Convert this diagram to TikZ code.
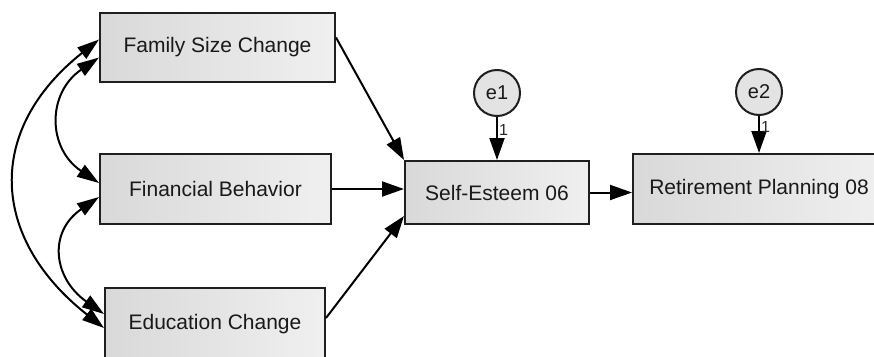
\documentclass[tikz,border=0pt]{standalone}
\usepackage{fontspec}
\setmainfont{Liberation Sans}
\usetikzlibrary{arrows.meta}

\begin{document}
\begin{tikzpicture}[
    var/.style={draw=black!88, line width=2pt, left color=gray!30, right color=gray!12,
        text=black!90, font=\fontsize{21}{24}\selectfont, inner sep=0pt},
    err/.style={circle, draw=black!88, line width=2pt, fill=gray!22, minimum size=46pt,
        text=black!90, font=\fontsize{20}{24}\selectfont, inner sep=0pt},
    path/.style={line width=2pt, -{Triangle[length=22pt, width=15pt]}},
    cov/.style={line width=2pt, {Triangle[length=22pt, width=14pt]}-{Triangle[length=22pt, width=14pt]}},
    lab/.style={text=black!85, font=\fontsize{16}{18}\selectfont, inner sep=1pt}
]
    \clip (0pt, 0pt) rectangle (874pt, -356pt);

    % Nodes
    \node[var, minimum width=235pt, minimum height=69pt] (fam) at (217.5pt, -47.5pt) {Family Size Change};
    \node[var, minimum width=231pt, minimum height=70pt] (fin) at (215.5pt, -189pt) {Financial Behavior};
    \node[var, minimum width=220pt, minimum height=72pt] (edu) at (215pt, -324pt) {Education Change};

    \node[var, minimum width=184pt, minimum height=63pt] (se) at (497pt, -192.5pt) {Self-Esteem 06};
    \node[var, minimum width=252pt, minimum height=70pt] (ret) at (759pt, -189pt) {Retirement Planning 08};

    \node[err] (e1) at (497pt, -93pt) {e1};
    \node[err] (e2) at (759pt, -92pt) {e2};

    % Lines
    \draw[path] ([yshift=10pt]fam.east) -- (se.north west);
    \draw[path] (fin.east) -- (fin.east -| se.west);
    \draw[path] ([yshift=6pt]edu.east) -- ([yshift=9pt]se.south west);
    \draw[path] (se.east) -- (se.east -| ret.west);

    \draw[path] (e1) -- node[lab, right, pos=0.3] {1} (se);
    \draw[path] (e2) -- node[lab, right, pos=0.3] {1} (ret);

    % Covariances
    \draw[cov] ([yshift=8pt]fam.west) .. controls (-15pt, -130pt) and (-10pt, -238pt) .. ([yshift=-4pt]edu.west);
    \draw[cov] ([yshift=-10pt]fam.west) .. controls (47pt, -93pt) and (47pt, -148pt) .. ([yshift=6pt]fin.west);
    \draw[cov] ([yshift=-8pt]fin.west) .. controls (48pt, -232pt) and (53pt, -278pt) .. ([yshift=10pt]edu.west);

\end{tikzpicture}
\end{document}
